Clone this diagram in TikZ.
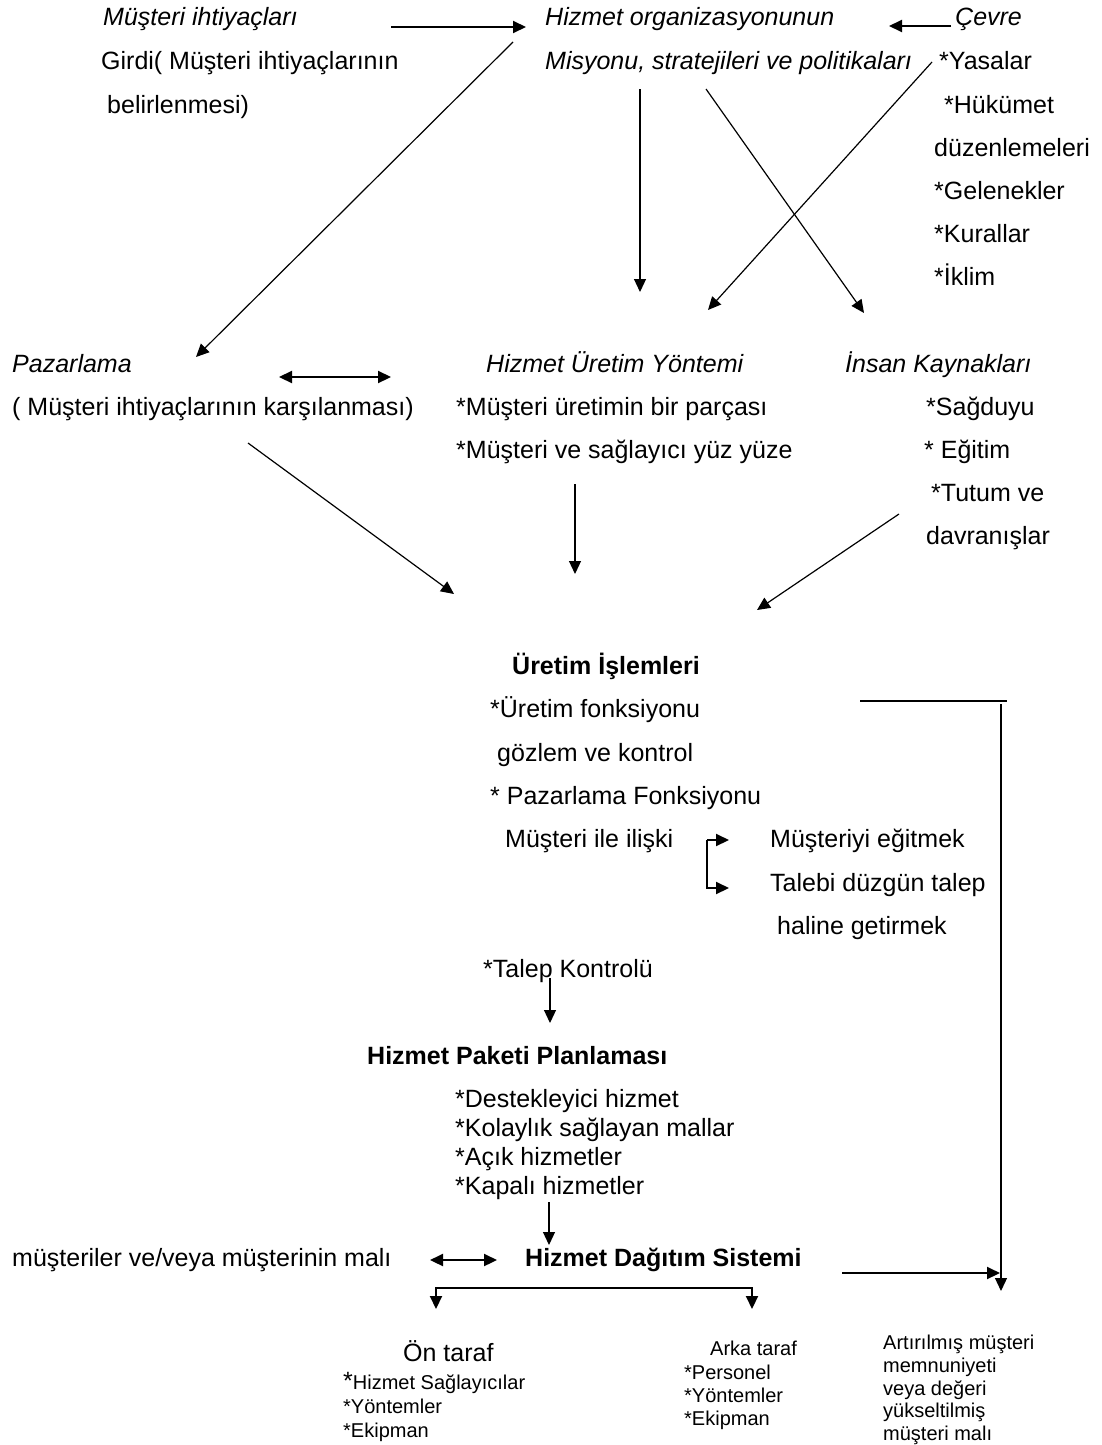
\documentclass[tikz,border=0pt]{standalone}
\usepackage{fontspec}
\setmainfont{Liberation Sans}
\usetikzlibrary{arrows.meta}
\begin{document}
\begin{tikzpicture}[x=1pt,y=-1pt,
  txt/.style={anchor=base west, inner sep=0pt, font=\fontsize{25}{30}\selectfont},
  itxt/.style={txt, font=\fontsize{25}{30}\selectfont\itshape},
  btxt/.style={txt, font=\fontsize{25}{30}\selectfont\bfseries},
  stxt/.style={txt, font=\fontsize{20}{24}\selectfont},
  tip/.tip={Triangle[length=13pt,width=12pt]},
  arr/.style={-tip, line width=1.2pt},
  harr/.style={-tip, line width=2pt},
  darr/.style={tip-tip, line width=2.2pt},
  plain/.style={line width=1.3pt}]
\useasboundingbox[fill=white] (0,0) rectangle (1101,1445);

% --- inputs: customer needs, organisation, environment
\node[itxt] (mi)   at (103,26)  {Müşteri ihtiyaçları};
\node[txt]  (gi)   at (101,70)  {Girdi( Müşteri ihtiyaçlarının};
\node[txt]  (be)   at (107,113) {belirlenmesi)};
\node[itxt] (org)  at (545,26)  {Hizmet organizasyonunun};
\node[itxt] (mis)  at (545,70)  {Misyonu, stratejileri ve politikaları};
\node[itxt] (cev)  at (955,26)  {Çevre};
\node[txt]  (ya)   at (939,70)  {*Yasalar};
\node[txt]  (hu)   at (944,113) {*Hükümet};
\node[txt]  (du)   at (934,156) {düzenlemeleri};
\node[txt]  (ge)   at (934,199) {*Gelenekler};
\node[txt]  (ku)   at (934,242) {*Kurallar};
\node[txt]  (ik)   at (934,285) {*İklim};

% --- second level
\node[itxt] (paz)  at (12,372)  {Pazarlama};
\node[txt]  (pazk) at (12,415)  {( Müşteri ihtiyaçlarının karşılanması)};
\node[itxt] (hy)   at (486,372) {Hizmet Üretim Yöntemi};
\node[txt]  (hy1)  at (456,415) {*Müşteri üretimin bir parçası};
\node[txt]  (hy2)  at (456,458) {*Müşteri ve sağlayıcı yüz yüze};
\node[itxt] (ik2)  at (845,372) {İnsan Kaynakları};
\node[txt]  (ik3)  at (926,415) {*Sağduyu};
\node[txt]  (ik4)  at (924,458) {* Eğitim};
\node[txt]  (ik5)  at (931,501) {*Tutum ve};
\node[txt]  (ik6)  at (926,544) {davranışlar};

% --- operations
\node[btxt] (ui)   at (512,674) {Üretim İşlemleri};
\node[txt]  (ui1)  at (490,717) {*Üretim fonksiyonu};
\node[txt]  (ui2)  at (497,761) {gözlem ve kontrol};
\node[txt]  (ui3)  at (490,804) {* Pazarlama Fonksiyonu};
\node[txt]  (ui4)  at (505,847) {Müşteri ile ilişki};
\node[txt]  (me)   at (770,847) {Müşteriyi eğitmek};
\node[txt]  (td)   at (770,891) {Talebi düzgün talep};
\node[txt]  (hg)   at (777,934) {haline getirmek};
\node[txt]  (tk)   at (483,977) {*Talep Kontrolü};

% --- service package
\node[btxt] (hp)   at (367,1064) {Hizmet Paketi Planlaması};
\node[txt]  (hp1)  at (455,1107) {*Destekleyici hizmet};
\node[txt]  (hp2)  at (455,1136) {*Kolaylık sağlayan mallar};
\node[txt]  (hp3)  at (455,1165) {*Açık hizmetler};
\node[txt]  (hp4)  at (455,1194) {*Kapalı hizmetler};

% --- delivery system
\node[txt]  (mm)   at (12,1266)  {müşteriler ve/veya müşterinin malı};
\node[btxt] (hd)   at (525,1266) {Hizmet Dağıtım Sistemi};

\node[txt]  (on)   at (403,1361) {Ön taraf};
\node[stxt] (on1)  at (343,1389) {{\fontsize{25}{30}\selectfont *}Hizmet Sağlayıcılar};
\node[stxt] (on2)  at (343,1413) {*Yöntemler};
\node[stxt] (on3)  at (343,1437) {*Ekipman};

\node[stxt] (ar)   at (710,1355) {Arka taraf};
\node[stxt] (ar1)  at (684,1379) {*Personel};
\node[stxt] (ar2)  at (684,1402) {*Yöntemler};
\node[stxt] (ar3)  at (684,1425) {*Ekipman};

\node[stxt] (so1)  at (883,1349) {Artırılmış müşteri};
\node[stxt] (so2)  at (883,1372) {memnuniyeti};
\node[stxt] (so3)  at (883,1395) {veya değeri};
\node[stxt] (so4)  at (883,1417) {yükseltilmiş};
\node[stxt] (so5)  at (883,1440) {müşteri malı};

% --- connector end points
\coordinate (a1s) at (391,27);   \coordinate (a1e) at (526,27);
\coordinate (a2s) at (951,26);   \coordinate (a2e) at (889,26);
\coordinate (a3s) at (513,42);   \coordinate (a3e) at (196,357);
\coordinate (a4s) at (640,89);   \coordinate (a4e) at (640,292);
\coordinate (a5s) at (706,89);   \coordinate (a5e) at (864,313);
\coordinate (a6s) at (932,62);   \coordinate (a6e) at (708,310);
\coordinate (a7s) at (279,377);  \coordinate (a7e) at (391,377);
\coordinate (a8s) at (248,443);  \coordinate (a8e) at (454,594);
\coordinate (a9s) at (575,484);  \coordinate (a9e) at (575,574);
\coordinate (a10s) at (899,514); \coordinate (a10e) at (757,610);
\coordinate (brT) at (707,840);  \coordinate (brTe) at (729,840);
\coordinate (brB) at (707,888);  \coordinate (brBe) at (729,888);
\coordinate (fbs) at (860,701);  \coordinate (fbc) at (1007,701);
\coordinate (fvs) at (1001,704); \coordinate (fve) at (1001,1291);
\coordinate (a11s) at (550,978); \coordinate (a11e) at (550,1023);
\coordinate (a12s) at (549,1202);\coordinate (a12e) at (549,1245);
\coordinate (a13s) at (430,1260);\coordinate (a13e) at (497,1260);
\coordinate (a14s) at (842,1273);\coordinate (a14e) at (1000,1273);
\coordinate (spL) at (436,1288); \coordinate (spLe) at (436,1309);
\coordinate (spR) at (752,1288); \coordinate (spRe) at (752,1309);

% --- connectors
\draw[harr] (a1s) -- (a1e);
\draw[harr] (a2s) -- (a2e);
\draw[arr]  (a3s) -- (a3e);
\draw[arr]  (a4s) -- (a4e);
\draw[arr]  (a5s) -- (a5e);
\draw[arr]  (a6s) -- (a6e);
\draw[darr] (a7s) -- (a7e);
\draw[arr]  (a8s) -- (a8e);
\draw[arr]  (a9s) -- (a9e);
\draw[arr]  (a10s) -- (a10e);
\draw[plain] (brBe) ++(-10,0) -- (brB) -- (brT);
\draw[harr] (brT) -- (brTe);
\draw[harr] (brB) -- (brBe);
\draw[plain] (fbs) -- (fbc);
\draw[arr]  (fvs) -- (fve);
\draw[arr]  (a11s) -- (a11e);
\draw[arr]  (a12s) -- (a12e);
\draw[darr] (a13s) -- (a13e);
\draw[harr] (a14s) -- (a14e);
\draw[harr, tip-tip] (spLe) -- (spL) -- (spR) -- (spRe);
\end{tikzpicture}
\end{document}
